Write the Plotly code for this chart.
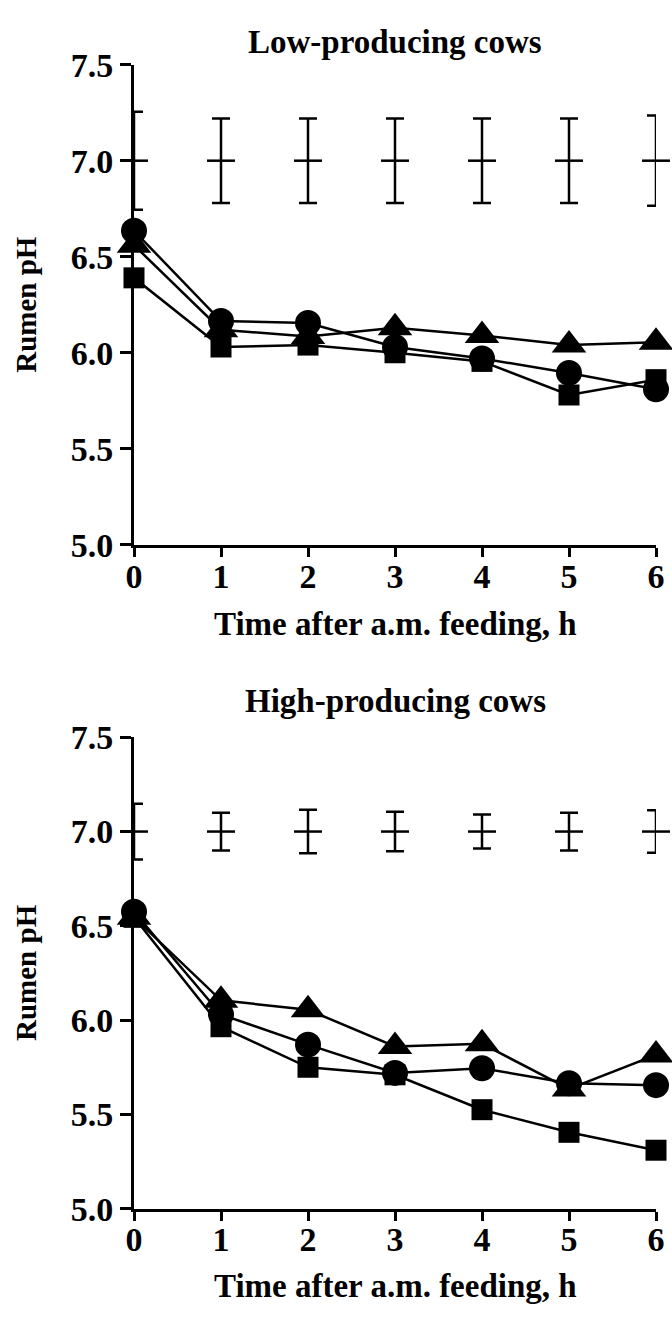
import plotly.graph_objects as go

hours = [0, 1, 2, 3, 4, 5, 6]

# Low-producing cows
low_circle = [6.635, 6.165, 6.155, 6.03, 5.97, 5.895, 5.81]
low_triangle = [6.56, 6.12, 6.085, 6.13, 6.09, 6.04, 6.055]
low_square = [6.39, 6.03, 6.04, 6.0, 5.955, 5.78, 5.86]
low_sem_center = [7.0, 7.0, 7.0, 7.0, 7.0, 7.0, 7.0]
low_sem = [0.255, 0.22, 0.22, 0.22, 0.22, 0.22, 0.235]

# High-producing cows
high_circle = [6.575, 6.03, 5.87, 5.72, 5.745, 5.665, 5.655]
high_triangle = [6.545, 6.105, 6.055, 5.86, 5.875, 5.635, 5.815]
high_square = [6.545, 5.965, 5.75, 5.71, 5.525, 5.405, 5.31]
high_sem_center = [7.0, 7.0, 7.0, 7.0, 7.0, 7.0, 7.0]
high_sem = [0.148, 0.10, 0.115, 0.105, 0.09, 0.10, 0.113]

y_ticks = [5.0, 5.5, 6.0, 6.5, 7.0, 7.5]
y_ticktext = ["5.0", "5.5", "6.0", "6.5", "7.0", "7.5"]
panel_titles = ["Low-producing cows", "High-producing cows"]
x_title = "Time after a.m. feeding, h"
y_title = "Rumen pH"

W, H = 672, 1321
FONT = "Liberation Serif"
fig = go.Figure()

def add_panel(xa, ya, circ, tri, sq, cen, sem):
    for vals, sym, size in [(tri, "triangle-up", 30), (circ, "circle", 26), (sq, "square", 21)]:
        fig.add_trace(go.Scatter(
            x=hours, y=vals, mode="lines+markers", xaxis=xa, yaxis=ya,
            line=dict(color="black", width=2.5),
            marker=dict(symbol=sym, size=size, color="black"),
            cliponaxis=False, showlegend=False, hoverinfo="skip"))
    fig.add_trace(go.Scatter(
        x=hours, y=cen, mode="markers", xaxis=xa, yaxis=ya,
        marker=dict(symbol="line-ew", size=20, color="black",
                    line=dict(color="black", width=2.5)),
        error_y=dict(type="data", array=sem, visible=True, color="black",
                     thickness=2.5, width=9),
        cliponaxis=False, showlegend=False, hoverinfo="skip"))

add_panel("x", "y", low_circle, low_triangle, low_square, low_sem_center, low_sem)
add_panel("x2", "y2", high_circle, high_triangle, high_square, high_sem_center, high_sem)

# pixel layout
L, R = 134, 656
top_y = (48, 542)
bot_y = (740, 1225)

def dom(p):
    return [1 - p[1] / H, 1 - p[0] / H]

axis_font = dict(family=FONT, size=34, color="black", weight="bold")
xcommon = dict(range=[0, 6], tickvals=hours, showgrid=False, zeroline=False,
               showline=True, linecolor="black", linewidth=3, ticks="outside",
               ticklen=9, tickwidth=3, tickcolor="black", tickfont=axis_font,
               ticklabelstandoff=-10, domain=[0, 1])
ycommon = dict(range=[5, 7.5], tickvals=y_ticks, ticktext=y_ticktext,
               showgrid=False, zeroline=False, showline=True, linecolor="black",
               linewidth=3, ticks="outside", ticklen=11, tickwidth=3,
               tickcolor="black", tickfont=axis_font)

fig.update_layout(
    width=W, height=H,
    margin=dict(l=L, r=W - R, t=0, b=0),
    plot_bgcolor="white", paper_bgcolor="white",
    xaxis=dict(**xcommon, anchor="y"),
    yaxis=dict(**ycommon, domain=dom(top_y), anchor="x"),
    xaxis2=dict(**xcommon, anchor="y2"),
    yaxis2=dict(**ycommon, domain=dom(bot_y), anchor="x2"),
)

title_font = dict(family=FONT, size=33, color="black", weight="bold")
ytitle_font = dict(family=FONT, size=29, color="black", weight="bold")

def px_x(p):
    return (p - L) / (R - L)

def px_y(p):
    return 1 - p / H

annots = []
for title, py, xt_y in [(panel_titles[0], 25, 623), (panel_titles[1], 703, 1305)]:
    annots.append(dict(text=title, x=0.5, y=px_y(py), xref="paper", yref="paper",
                       xanchor="center", yanchor="middle", showarrow=False, font=title_font))
    annots.append(dict(text=x_title, x=0.5, y=px_y(xt_y), xref="paper", yref="paper",
                       xanchor="center", yanchor="middle", showarrow=False, font=title_font))
for cy in [(top_y[0] + top_y[1]) / 2, (bot_y[0] + bot_y[1]) / 2]:
    annots.append(dict(text=y_title, x=px_x(26), y=px_y(cy), xref="paper", yref="paper",
                       xanchor="center", yanchor="middle", textangle=-90, showarrow=False,
                       font=ytitle_font))
fig.update_layout(annotations=annots)

fig.write_html("out.html")
